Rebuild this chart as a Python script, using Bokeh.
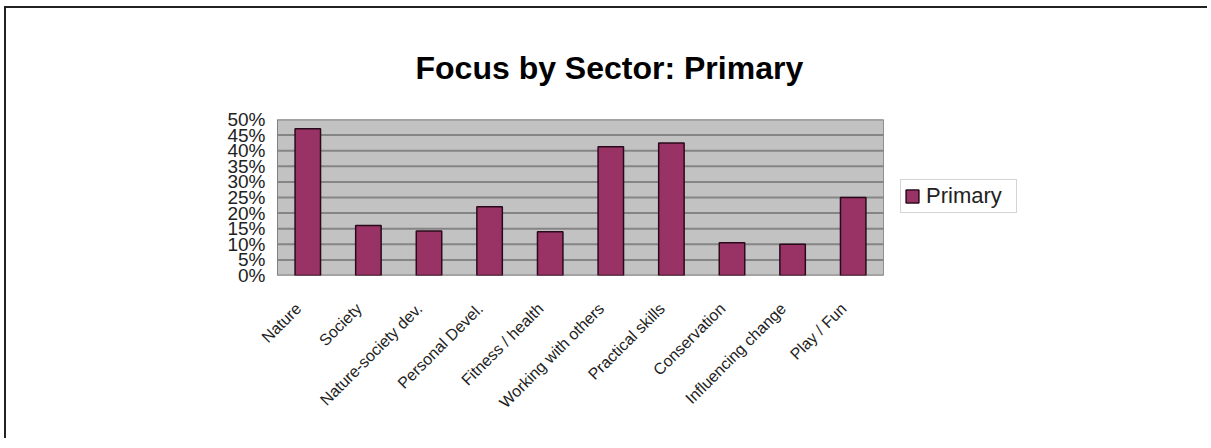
from bokeh.plotting import figure
from bokeh.models import Legend, LegendItem, FixedTicker, PrintfTickFormatter, ColumnDataSource, Range1d
from bokeh.embed import file_html
from bokeh.resources import INLINE
import math

categories = ["Nature", "Society", "Nature-society dev.", "Personal Devel.", "Fitness / health",
              "Working with others", "Practical skills", "Conservation", "Influencing change", "Play / Fun"]
primary = [47, 16, 14.3, 22, 14, 41.3, 42.5, 10.5, 10, 25]
y_ticks = [0, 5, 10, 15, 20, 25, 30, 35, 40, 45, 50]
title_text = "Focus by Sector: Primary"
series_name = "Primary"

FONT = "Liberation Sans"

W, H = 1203, 432
LEFT, RIGHT, TOP, BOTTOM = 271, 0, 111, 165
CAT_PX = 60.6
n = len(categories)
xs = list(range(n))
x_end = -0.5 + (W - LEFT - RIGHT) / CAT_PX

p = figure(x_range=Range1d(-0.5, x_end), y_range=Range1d(0, 50), width=W, height=H,
           output_backend="svg", toolbar_location=None,
           min_border_left=LEFT, min_border_right=RIGHT, min_border_top=TOP, min_border_bottom=BOTTOM)
p.styles = {"box-shadow": "-2px -2px 0px 0px #222",
            "margin-left": "6px", "margin-top": "8px"}

p.background_fill_color = "white"
p.border_fill_color = "white"
p.outline_line_color = None
p.xgrid.grid_line_color = None
p.ygrid.grid_line_color = None

# plot area (category region only)
p.quad(left=[-0.5], right=[n - 0.5], bottom=[y_ticks[0]], top=[y_ticks[-1]],
       fill_color="#c2c2c2", line_color="#909090", line_width=1)
# horizontal gridlines
p.segment(x0=[-0.5] * len(y_ticks), x1=[n - 0.5] * len(y_ticks), y0=y_ticks, y1=y_ticks,
          line_color="#858585", line_width=2)

src = ColumnDataSource(dict(x=xs, top=primary))
r = p.vbar(x="x", top="top", width=0.42, source=src, fill_color="#993366",
           line_color="#2a0a1a", line_width=1.5)

p.yaxis.ticker = FixedTicker(ticks=y_ticks)
p.yaxis.formatter = PrintfTickFormatter(format="%d%%")
p.yaxis.major_label_text_font = FONT
p.yaxis.major_label_text_font_size = "19px"
p.yaxis.major_label_text_color = "#222"
p.yaxis.axis_line_color = "#808080"
p.yaxis.major_tick_line_color = None
p.yaxis.minor_tick_line_color = None
p.yaxis.major_label_standoff = 6

NBSP = "\u00a0"
p.xaxis.ticker = FixedTicker(ticks=xs)
p.xaxis.major_label_overrides = {i: c + NBSP * 3 for i, c in zip(xs, categories)}
p.xaxis.major_label_orientation = math.pi / 4
p.xaxis.major_label_text_font = FONT
p.xaxis.major_label_text_font_size = "16px"
p.xaxis.major_label_text_color = "#222"
p.xaxis.axis_line_color = None
p.xaxis.major_tick_line_color = None
p.xaxis.minor_tick_line_color = None
p.xaxis.major_label_standoff = 15

p.title.text = title_text
p.title.text_font = FONT
p.title.text_font_size = "32px"
p.title.text_font_style = "bold"
p.title.text_color = "black"
p.title.align = "left"
p.title.offset = 138
p.title.standoff = 68

legend = Legend(items=[LegendItem(label=series_name, renderers=[r])], location=(623, 62),
                label_text_font=FONT, label_text_font_size="22px", label_text_color="#222",
                glyph_width=16, glyph_height=16, padding=3, spacing=0, margin=0,
                label_width=87, label_standoff=6,
                border_line_color="#aaaaaa", border_line_width=1,
                background_fill_color="white")
p.add_layout(legend, "center")

open("out.html", "w").write(file_html(p, INLINE))
